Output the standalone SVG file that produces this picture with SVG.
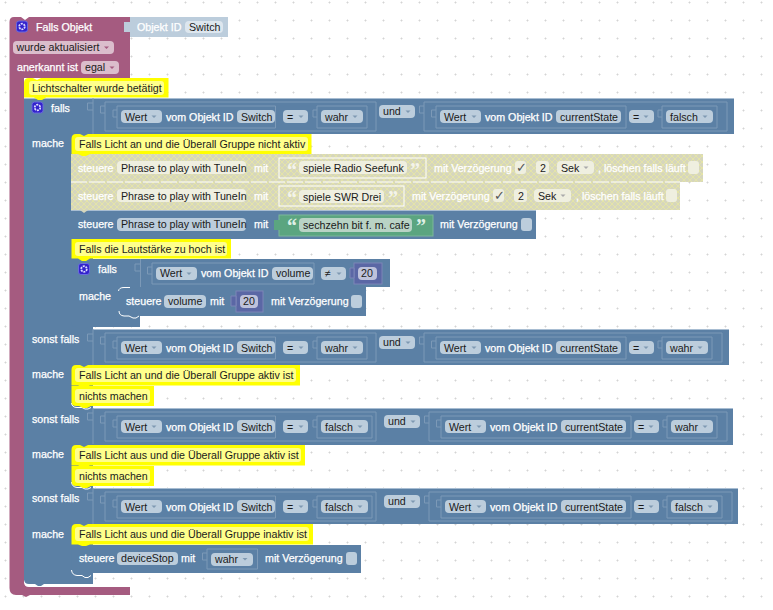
<svg xmlns="http://www.w3.org/2000/svg" width="773" height="610" viewBox="0 0 773 610">
<defs>
<pattern id="grid" width="18" height="18" patternUnits="userSpaceOnUse" x="-4" y="-7"><path d="M8.500 9.500H10.500M9.500 8.500V10.500" stroke="#d4d4d4" stroke-width="1" fill="none"/></pattern>
<pattern id="dis" width="6" height="6" patternUnits="userSpaceOnUse"><rect width="6" height="6" fill="#d6d6bd"/><path d="M0 0L6 6M6 0L0 6" stroke="#e4e4a8" stroke-width="1"/></pattern>
<style>
text{font-family:"Liberation Sans",Arial,sans-serif;font-size:10.67px}
.l{fill:#fff;stroke:#fff;stroke-width:.25}
.t{fill:#1a1a1a}
.c{fill:#555;font-size:13px}
.q{font-family:"Liberation Serif",serif;font-size:20px;font-weight:700;fill:#f4f4ea}
.f{fill:#bccddc}
.d{fill:#efefe0}
.g{fill:#b9d3c5}
.b{fill:#5b80a5}
.bo{fill:none;stroke:#7c99b7;stroke-width:1}
.hi{fill:none;stroke:#a8bdd2;stroke-width:1}
.wh{fill:none;stroke:#fff;stroke-width:1}
.p{fill:#a55b80}
.y{fill:#ff0}
.yi{fill:#ffff8c}
.a{fill:#7f99b2}
.n{fill:#5b67a5;stroke:#7c85b7}
.m{fill:#bec2db}
</style>
<g id="ar"><path d="M-2.500 0H2.500L0 2.500Z"/></g>
<g id="gear"><rect x="-5.500" y="-5.500" width="11" height="11" rx="2.500" fill="#3322cc" stroke="#6a6ae0" stroke-width="1"/><circle r="2.800" fill="none" stroke="#dcdcff" stroke-width="1.800" stroke-dasharray="2 .9"/><circle r="1.200" fill="#3322cc"/></g>
<g id="op1">
<path class="bo" d="M93 98V134M93 103H87.500V110H93"/>
<path class="bo" d="M105 102H376V131H105ZM105 106H100.500V113H105"/>
<path class="bo" d="M117 106H275.500V128H117ZM117 110H113V117H117"/>
<rect class="f" x="121" y="110" width="41" height="13" rx="4"/><text class="t" x="125" y="120.500">Wert</text><use href="#ar" x="154" y="115.500" class="a"/>
<text class="l" x="166" y="120.500">vom Objekt ID</text>
<rect class="f" x="237" y="110" width="38" height="13" rx="4"/><text class="t" x="241" y="120.500">Switch</text>
<rect class="f" x="283" y="110" width="25" height="13" rx="4"/><text class="t" x="287" y="120.500">=</text><use href="#ar" x="301" y="115.500" class="a"/>
</g>
<g id="op2">
<path class="bo" d="M436 106H626V128H436ZM436 110H431.500V117H436"/>
<rect class="f" x="440" y="110" width="41" height="13" rx="4"/><text class="t" x="444" y="120.500">Wert</text><use href="#ar" x="474" y="115.500" class="a"/>
<text class="l" x="485" y="120.500">vom Objekt ID</text>
<rect class="f" x="556" y="110" width="65" height="13" rx="4"/><text class="t" x="560" y="120.500">currentState</text>
<rect class="f" x="629" y="110" width="25" height="13" rx="4"/><text class="t" x="633" y="120.500">=</text><use href="#ar" x="646" y="115.500" class="a"/>
</g>
<g id="wahrA"><path class="bo" d="M317 106H367V128H317ZM317 110H313V117H317"/><rect class="f" x="321" y="110" width="42" height="13" rx="4"/><text class="t" x="325" y="120.500">wahr</text><use href="#ar" x="355" y="115.500" class="a"/></g>
<g id="falschA"><path class="bo" d="M317 106H372V128H317ZM317 110H313V117H317"/><rect class="f" x="321" y="110" width="47" height="13" rx="4"/><text class="t" x="325" y="120.500">falsch</text><use href="#ar" x="360" y="115.500" class="a"/></g>
<g id="wahrB"><path class="bo" d="M424 102H722V131H424ZM424 106H419.500V113H424"/><path class="bo" d="M662 106H712V128H662ZM662 110H658V117H662"/><rect class="f" x="666" y="110" width="42" height="13" rx="4"/><text class="t" x="670" y="120.500">wahr</text><use href="#ar" x="700" y="115.500" class="a"/></g>
<g id="falschB"><path class="bo" d="M424 102H727V131H424ZM424 106H419.500V113H424"/><path class="bo" d="M662 106H717V128H662ZM662 110H658V117H662"/><rect class="f" x="666" y="110" width="47" height="13" rx="4"/><text class="t" x="670" y="120.500">falsch</text><use href="#ar" x="705" y="115.500" class="a"/></g>
</defs>
<rect width="773" height="610" fill="#fff"/>
<rect width="773" height="610" fill="url(#grid)"/>

<g id="connectors"></g>

<g id="trigger">
<path class="p" d="M9.500 22Q9.500 17 14 17H21L25 20L29 17H130V78H24V582Q24 587 29 587H130V595H30L26 597L22 595H16Q9.500 595 9.500 588Z"/>
<use href="#gear" transform="translate(22,26.500)"/>
<text class="l" x="36" y="30.500">Falls Objekt</text>
<rect x="13" y="41" width="101" height="13" rx="4" fill="#dbbdcc"/><text class="t" x="16.500" y="51">wurde aktualisiert</text><use href="#ar" x="106.500" y="46.500" fill="#a55b80"/>
<text class="l" x="17" y="71">anerkannt ist</text>
<rect x="81" y="61" width="38" height="13" rx="4" fill="#dbbdcc"/><text class="t" x="85" y="71">egal</text><use href="#ar" x="112" y="66.500" fill="#a55b80"/>
</g>
<g id="objectid">
<rect x="130" y="17" width="98" height="20" fill="#bccddc"/>
<path d="M130 22H124V32H130Z" fill="#bccddc"/>
<text x="137" y="31" fill="#fff" stroke="#fff" stroke-width=".25">Objekt ID</text>
<rect x="185" y="21" width="38" height="12" rx="4" fill="#dde6ee"/><text class="t" x="189" y="31">Switch</text>
</g>

<g id="if-main">
<path class="b" d="M24 98H734V134H93V329H729V365H93V408H733V445H93V488H738V524H93V584H44L41 586H38L35 584H29Q24 584 24 579Z"/>
<path class="b" d="M24 98H71V580H24Z"/>
<use href="#gear" transform="translate(37.500,107.500)"/>
<text class="l" x="51" y="112">falls</text><text class="l" x="32" y="147">mache</text>
<text class="l" x="32" y="343">sonst falls</text><text class="l" x="32" y="378">mache</text>
<text class="l" x="32" y="423">sonst falls</text><text class="l" x="32" y="458">mache</text>
<text class="l" x="32" y="502">sonst falls</text><text class="l" x="32" y="538">mache</text>
</g>

<g id="cond1">
<path class="hi" d="M24 98.500H734"/>
<use href="#op1"/><use href="#wahrA"/>
<rect class="f" x="379" y="105" width="36" height="13" rx="4"/><text class="t" x="383" y="115">und</text><use href="#ar" x="408" y="110.500" class="a"/>
<use href="#op2"/><use href="#falschB"/>
</g>
<g id="cond2" transform="translate(0,231)">
<path class="hi" d="M93 98.500H729"/>
<use href="#op1"/><use href="#wahrA"/>
<rect class="f" x="379" y="105" width="36" height="13" rx="4"/><text class="t" x="383" y="115">und</text><use href="#ar" x="408" y="110.500" class="a"/>
<use href="#op2"/><use href="#wahrB"/>
</g>
<g id="cond3" transform="translate(0,310)">
<path class="hi" d="M93 98.500H733"/>
<use href="#op1"/><use href="#falschA"/>
<rect class="f" x="384" y="105" width="36" height="13" rx="4"/><text class="t" x="388" y="115">und</text><use href="#ar" x="413" y="110.500" class="a"/>
<g transform="translate(5,0)"><use href="#op2"/><use href="#wahrB"/></g>
</g>
<g id="cond4" transform="translate(0,390)">
<path class="hi" d="M93 98.500H738"/>
<use href="#op1"/><use href="#falschA"/>
<rect class="f" x="384" y="105" width="36" height="13" rx="4"/><text class="t" x="388" y="115">und</text><use href="#ar" x="413" y="110.500" class="a"/>
<g transform="translate(5,0)"><use href="#op2"/><use href="#falschB"/></g>
</g>

<g id="set1">
<rect x="71" y="154" width="632" height="28" fill="url(#dis)"/>
<text class="l" x="78" y="172">steuere</text>
<rect class="d" x="117" y="161" width="129" height="13" rx="4"/><text class="t" x="121" y="172">Phrase to play with TuneIn</text>
<text class="l" x="254" y="172">mit</text>
<rect x="279" y="158" width="147" height="20" fill="none" stroke="#fff"/>
<text class="q" x="287" y="177">“</text>
<rect class="d" x="299" y="161" width="108" height="13" rx="4"/><text class="t" x="303" y="172">spiele Radio Seefunk</text>
<text class="q" x="410" y="177">”</text>
<text class="l" x="434" y="172">mit Verzögerung</text>
<rect class="d" x="515" y="161" width="11" height="13" rx="3"/><text class="c" x="516" y="172">✓</text>
<rect class="d" x="536" y="161" width="13" height="13" rx="3"/><text class="t" x="540" y="172">2</text>
<rect class="d" x="557" y="161" width="37" height="13" rx="4"/><text class="t" x="561" y="172">Sek</text><use href="#ar" x="586" y="166.500" fill="#aaa"/>
<text class="l" x="598" y="172">, löschen falls läuft</text>
<rect class="d" x="688" y="161" width="11" height="13" rx="3"/>
</g>
<g id="set2">
<rect x="71" y="182" width="609" height="28" fill="url(#dis)"/>
<path d="M71 182H680" stroke="#fff" stroke-dasharray="16 2" fill="none"/>
<text class="l" x="78" y="200">steuere</text>
<rect class="d" x="117" y="189" width="129" height="13" rx="4"/><text class="t" x="121" y="200">Phrase to play with TuneIn</text>
<text class="l" x="254" y="200">mit</text>
<rect x="279" y="186" width="125" height="20" fill="none" stroke="#fff"/>
<text class="q" x="287" y="205">“</text>
<rect class="d" x="299" y="190" width="85" height="13" rx="4"/><text class="t" x="303" y="201">spiele SWR Drei</text>
<text class="q" x="388" y="205">”</text>
<text class="l" x="412" y="200">mit Verzögerung</text>
<rect class="d" x="493" y="189" width="11" height="13" rx="3"/><text class="c" x="494" y="200">✓</text>
<rect class="d" x="514" y="189" width="13" height="13" rx="3"/><text class="t" x="518" y="200">2</text>
<rect class="d" x="534" y="189" width="37" height="13" rx="4"/><text class="t" x="538" y="200">Sek</text><use href="#ar" x="563" y="194.500" fill="#aaa"/>
<text class="l" x="576" y="200">, löschen falls läuft</text>
<rect class="d" x="666" y="189" width="11" height="13" rx="3"/>
</g>
<g id="set3">
<rect class="b" x="71" y="210" width="465" height="29"/>
<path class="hi" d="M71 210.500H536"/>
<path d="M80 210L84 213L88 210Z" fill="#d6d6bd"/>
<text class="l" x="78" y="228">steuere</text>
<rect class="f" x="117" y="218" width="129" height="13" rx="4"/><text class="t" x="121" y="228">Phrase to play with TuneIn</text>
<text class="l" x="254" y="228">mit</text>
<rect x="279" y="215" width="154" height="21" fill="#5ba580" stroke="#7cb79a"/>
<path d="M274 220H280V230H274Z" fill="#5ba580"/>
<text class="q" x="287" y="233" style="fill:#dff0e6">“</text>
<rect class="g" x="299" y="218" width="113" height="14" rx="4"/><text class="t" x="303" y="229">sechzehn bit f. m. cafe</text>
<text class="q" x="416" y="233" style="fill:#dff0e6">”</text>
<text class="l" x="440" y="228">mit Verzögerung</text>
<rect class="f" x="521" y="218" width="11" height="13" rx="3"/>
</g>

<g id="if-volume">
<path class="b" d="M71 259H390V287H140V327H88L84 329H80L76 327Q71 327 71 322Z"/>
<path class="b" d="M71 259H118V322H71Z"/>
<use href="#gear" transform="translate(84,269)"/>
<text class="l" x="98" y="273">falls</text><text class="l" x="79" y="300">mache</text>
<path class="bo" d="M140.500 259V287M140.500 264H135V271H140.500"/>
<path class="bo" d="M152 263H314V284H152ZM152 267H147.500V274H152"/>
<rect class="f" x="156" y="267" width="41" height="13" rx="4"/><text class="t" x="160" y="277">Wert</text><use href="#ar" x="189" y="272.500" class="a"/>
<text class="l" x="201" y="277">vom Objekt ID</text>
<rect class="f" x="272" y="267" width="41" height="13" rx="4"/><text class="t" x="276" y="277">volume</text>
<rect class="f" x="321" y="267" width="25" height="13" rx="4"/><text class="t" x="325" y="277">≠</text><use href="#ar" x="339" y="272.500" class="a"/>
<rect class="n" x="354" y="263" width="28" height="21"/><path d="M354 268H350V278H354Z" class="n"/>
<rect class="m" x="358" y="267" width="19" height="13" rx="4"/><text class="t" x="361" y="277">20</text>
</g>
<g id="set-volume">
<path class="b" d="M118 292Q118 287 123 287H132L136 289L140 287H366V316H140L136 318H132L128 316H123Q118 316 118 311Z"/>
<path class="wh" d="M118.500 291Q119 287.500 124 287.500H130M119 311Q119 315.500 124 316H129L133 318H136L139 316"/>
<text class="l" x="126" y="305">steuere</text>
<rect class="f" x="164" y="295" width="42" height="13" rx="4"/><text class="t" x="168" y="305">volume</text>
<text class="l" x="210" y="305">mit</text>
<rect class="n" x="236" y="291" width="27" height="21"/><path d="M236 296H231V306H236Z" class="n"/>
<rect class="m" x="240" y="295" width="18" height="13" rx="4"/><text class="t" x="243" y="305">20</text>
<text class="l" x="271" y="305">mit Verzögerung</text>
<rect class="f" x="351" y="295" width="11" height="13" rx="3"/>
</g>
<g id="set-stop">
<path class="b" d="M71.500 545H361V573H93V575H88L84 577H80L76 575Q71.500 573 71.500 570Z"/>
<path class="wh" d="M71.500 570Q72 575 77 575.500H82L85 577.500H88L91 575.500"/>
<text class="l" x="79" y="562">steuere</text>
<rect class="f" x="117" y="552" width="61" height="13" rx="4"/><text class="t" x="121" y="562">deviceStop</text>
<text class="l" x="181" y="562">mit</text>
<path class="bo" d="M207 549H257.500V569H207ZM207 553H202.500V560H207"/>
<rect class="f" x="211" y="553" width="42" height="13" rx="4"/><text class="t" x="215" y="563">wahr</text><use href="#ar" x="245" y="558" class="a"/>
<text class="l" x="265" y="562">mit Verzögerung</text>
<rect class="f" x="346" y="552" width="11" height="13" rx="3"/>
</g>

<g id="c-licht"><path class="y" d="M24 83Q24 78 29 78H33L37 80L41 78H168.500V97.500H46L42 100H38L34 97.500H24Z"/><rect class="yi" x="29" y="81" width="135" height="14" rx="3"/><text class="t" x="32" y="91.500">Lichtschalter wurde betätigt</text></g>
<g id="c-1"><path class="y" d="M71.500 139Q71.500 134 76 134H80L84 136L88 134H311.500V154H90L86 156H82L78 154H71.500Z"/><rect class="yi" x="75" y="137" width="233" height="14" rx="3"/><text class="t" x="79" y="148">Falls Licht an und die Überall Gruppe nicht aktiv</text></g>
<g id="c-2"><path class="y" d="M71.500 239H231V258.500H90L86 261H82L78 258.500H71.500Z"/><rect class="yi" x="75" y="242" width="152" height="14" rx="3"/><text class="t" x="79" y="253">Falls die Lautstärke zu hoch ist</text></g>
<g id="c-4"><path class="wh" d="M71.500 403Q72 407.500 77 407.500H82L85 409H88L91 407.500"/><path class="y" d="M71.500 386H154V406H91L87 408H83L79 406H76Q71.500 406 71.500 402Z"/><rect class="yi" x="75" y="389" width="75" height="14" rx="3"/><text class="t" x="79" y="399.500">nichts machen</text></g>
<g id="c-3"><path class="y" d="M71.500 370Q71.500 365 76 365H80L84 367L88 365H300V385.500H90L86 387H82L78 385.500H71.500Z"/><rect class="yi" x="75" y="368" width="221" height="14" rx="3"/><text class="t" x="79" y="379">Falls Licht an und die Überall Gruppe aktiv ist</text></g>
<g id="c-6"><path class="wh" d="M71.500 482Q72 487 77 487.500H82L85 489H88L91 487.500"/><path class="y" d="M71.500 466H154V486H91L87 488H83L79 486H76Q71.500 486 71.500 481Z"/><rect class="yi" x="75" y="469" width="75" height="14" rx="3"/><text class="t" x="79" y="479.500">nichts machen</text></g>
<g id="c-5"><path class="y" d="M71.500 450Q71.500 445 76 445H80L84 447L88 445H305V465.500H90L86 467H82L78 465.500H71.500Z"/><rect class="yi" x="75" y="448" width="226" height="14" rx="3"/><text class="t" x="79" y="459">Falls Licht aus und die Überall Gruppe aktiv ist</text></g>
<g id="c-7"><path class="y" d="M71.500 529Q71.500 524 76 524H80L84 526L88 524H313V544.500H90L86 546H82L78 544.500H71.500Z"/><rect class="yi" x="75" y="527" width="234" height="14" rx="3"/><text class="t" x="79" y="538">Falls Licht aus und die Überall Gruppe inaktiv ist</text></g>
</svg>
